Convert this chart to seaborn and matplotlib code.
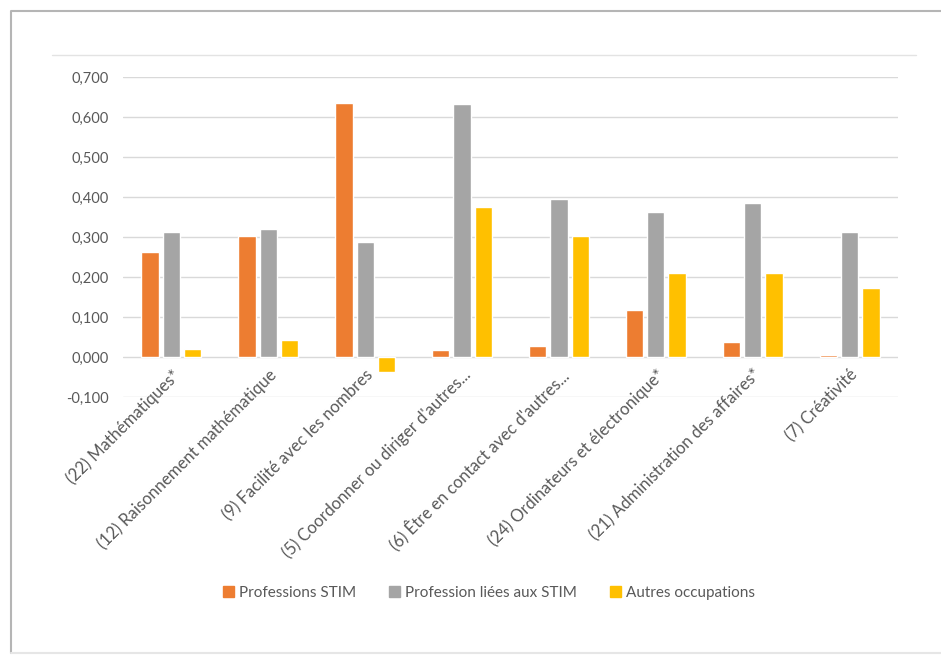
import matplotlib.pyplot as plt
import matplotlib.patches as mpatches
import matplotlib.lines as mlines
from matplotlib.ticker import FuncFormatter
import pandas as pd
import seaborn as sns

# categories and series
categories = ["(22) Mathématiques*", "(12) Raisonnement mathématique",
              "(9) Facilité avec les nombres", "(5) Coordonner ou diriger d'autres...",
              "(6) Être en contact avec d'autres...", "(24) Ordinateurs et électronique*",
              "(21) Administration des affaires*", "(7) Créativité"]
series = ["Professions STIM", "Profession liées aux STIM", "Autres occupations"]
stim = [0.262, 0.302, 0.635, 0.017, 0.027, 0.117, 0.037, 0.004]
liees = [0.313, 0.321, 0.287, 0.632, 0.395, 0.362, 0.386, 0.313]
autres = [0.020, 0.043, -0.038, 0.376, 0.302, 0.209, 0.209, 0.172]
colors = ["#ED7D31", "#A5A5A5", "#FFC000"]

df = pd.DataFrame({
    "cat": categories * 3,
    "serie": [series[0]] * 8 + [series[1]] * 8 + [series[2]] * 8,
    "val": stim + liees + autres,
})

sns.set_style("white")
plt.rcParams['font.family'] = ['Lato', 'DejaVu Sans']

fig = plt.figure(figsize=(9.41, 6.56), dpi=100)
ax = fig.add_axes([123 / 941, 1 - 397 / 656, 775 / 941, 320 / 656])

sns.barplot(data=df, x="cat", y="val", hue="serie", palette=colors, saturation=1,
            width=0.66, gap=0.19, ax=ax, legend=False)

ax.set_ylim(-0.1, 0.7)
ax.set_xlim(-0.5, len(categories) - 0.5)
ax.set_yticks([i / 10 for i in range(-1, 8)])
ax.yaxis.set_major_formatter(FuncFormatter(lambda v, p: f"{v:.3f}".replace(".", ",")))
ax.grid(axis="y", color="#D9D9D9", lw=1)
ax.set_axisbelow(True)
for s in ax.spines.values():
    s.set_visible(False)
ax.set_xlabel("")
ax.set_ylabel("")
ax.tick_params(axis="y", colors="#595959", labelsize=10.5, length=0, pad=10)
# labels hang just under the zero line, as in the original
ax.tick_params(axis="x", colors="#595959", labelsize=12, length=0, pad=-22)
ax.set_xticks(range(len(categories)))
ax.set_xticklabels(categories, rotation=45, ha="right", rotation_mode="anchor")

handles = [mpatches.Patch(color=c, label=s) for c, s in zip(colors, series)]
fig.legend(handles=handles, loc="center", bbox_to_anchor=(489 / 941, 1 - 593 / 656),
           ncol=3, frameon=False, fontsize=11, handlelength=0.7, handleheight=0.7,
           handletextpad=0.3, columnspacing=2.2, labelcolor="#595959")

# chart frame (left/top edges) and top separator line
fig.add_artist(mlines.Line2D([11 / 941, 11 / 941, 1], [1 - 653 / 656, 1 - 11 / 656, 1 - 11 / 656],
                             transform=fig.transFigure, color="#B5B5B5", lw=1.5))
fig.add_artist(mlines.Line2D([11 / 941, 1], [1 - 653 / 656, 1 - 653 / 656],
                             transform=fig.transFigure, color="#E6E6E6", lw=1.5))
fig.add_artist(mlines.Line2D([52 / 941, 916 / 941], [1 - 55 / 656, 1 - 55 / 656],
                             transform=fig.transFigure, color="#E3E3E3", lw=1))

fig.savefig("out.png", dpi=100)
